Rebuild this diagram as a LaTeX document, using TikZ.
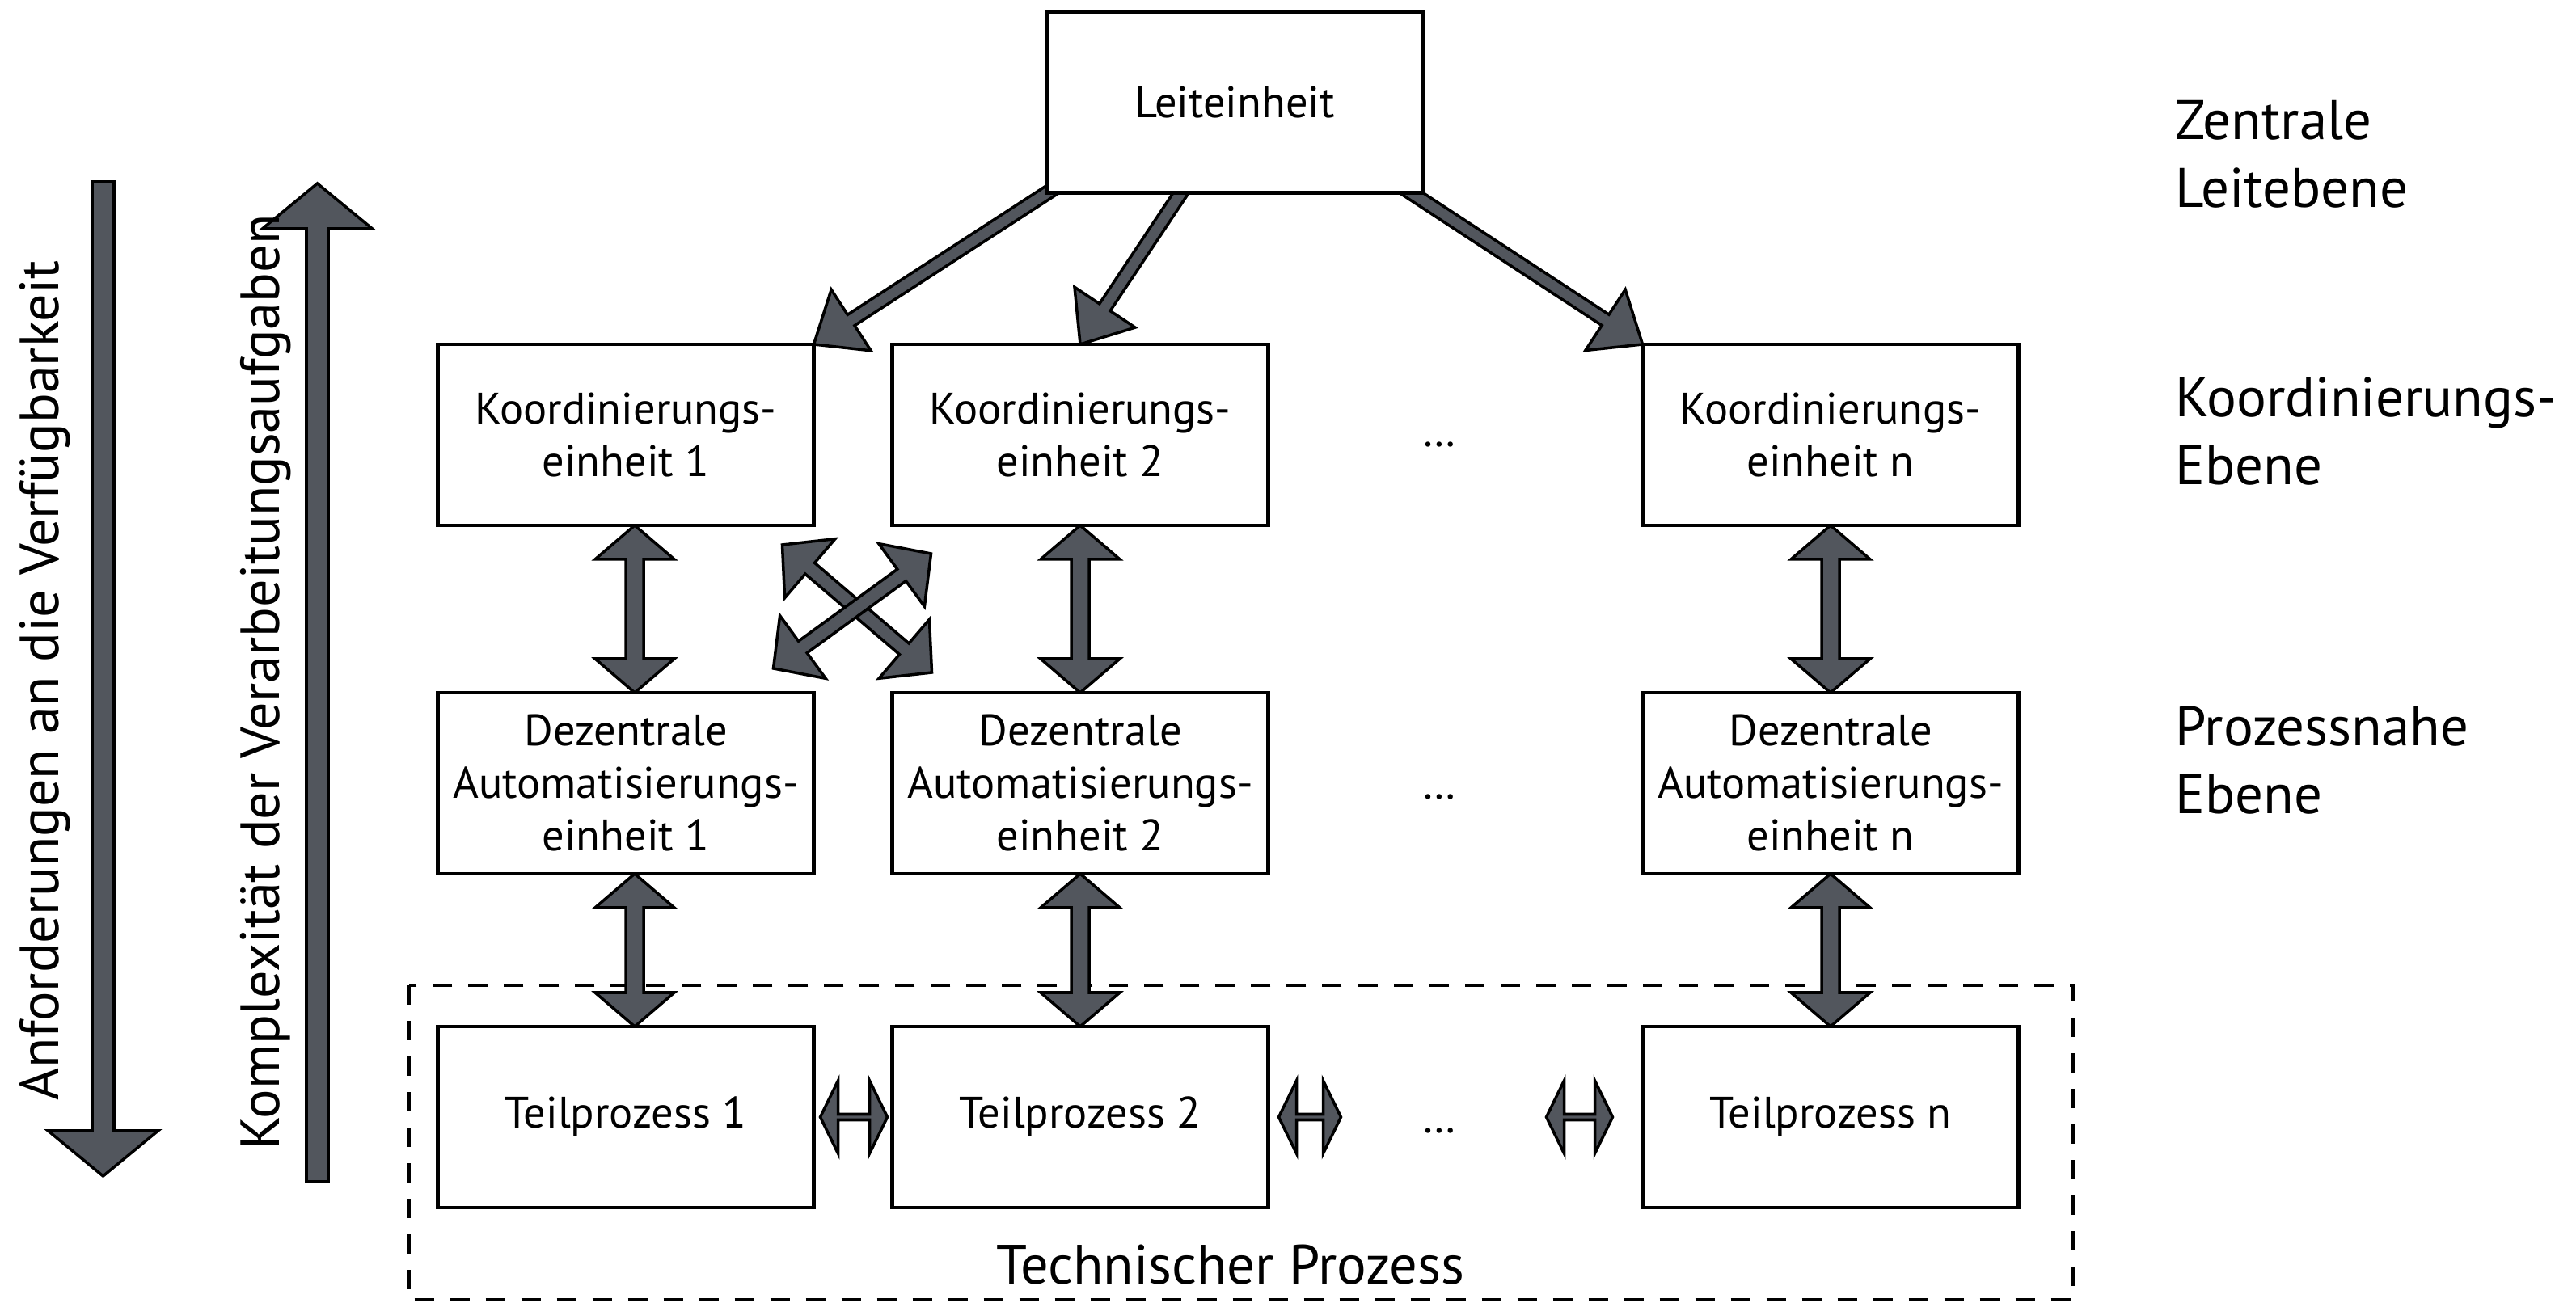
\documentclass[tikz,border=0pt]{standalone}
\usepackage{fontspec}
\setmainfont{PT Sans}
\usepackage{tikz}
\usetikzlibrary{positioning,calc,backgrounds}

\definecolor{arrowgray}{RGB}{82,86,93}

\tikzset{
    fatdims/.code n args={3}{\def\fatS{#1}\def\fatW{#2}\def\fatL{#3}},
    fatbase/.style={draw=black, fill=arrowgray, line width=1pt, line join=miter},
    fatsingle/.style={fatbase,
        to path={let \p1=(\tikztostart), \p2=(\tikztotarget),
                     \n1={atan2(\y2-\y1,\x2-\x1)} in
            ($(\p1)+({\n1+90}:\fatS)$)
            -- ($(\p2)+(\n1:-\fatL)+({\n1+90}:\fatS)$)
            -- ($(\p2)+(\n1:-\fatL)+({\n1+90}:\fatW)$)
            -- (\p2)
            -- ($(\p2)+(\n1:-\fatL)+({\n1-90}:\fatW)$)
            -- ($(\p2)+(\n1:-\fatL)+({\n1-90}:\fatS)$)
            -- ($(\p1)+({\n1-90}:\fatS)$) -- cycle}},
    fatdouble/.style={fatbase,
        to path={let \p1=(\tikztostart), \p2=(\tikztotarget),
                     \n1={atan2(\y2-\y1,\x2-\x1)} in
            (\p1)
            -- ($(\p1)+(\n1:\fatL)+({\n1+90}:\fatW)$)
            -- ($(\p1)+(\n1:\fatL)+({\n1+90}:\fatS)$)
            -- ($(\p2)+(\n1:-\fatL)+({\n1+90}:\fatS)$)
            -- ($(\p2)+(\n1:-\fatL)+({\n1+90}:\fatW)$)
            -- (\p2)
            -- ($(\p2)+(\n1:-\fatL)+({\n1-90}:\fatW)$)
            -- ($(\p2)+(\n1:-\fatL)+({\n1-90}:\fatS)$)
            -- ($(\p1)+(\n1:\fatL)+({\n1-90}:\fatS)$)
            -- ($(\p1)+(\n1:\fatL)+({\n1-90}:\fatW)$) -- cycle}},
    toparrow/.style={fatsingle, fatdims={0.08cm}{0.45cm}{0.55cm}},
    levelarrow/.style={fatdouble, fatdims={0.11cm}{0.49cm}{0.42cm}},
    crossarrow/.style={fatdouble, fatdims={0.09cm}{0.48cm}{0.45cm}},
    smallarrow/.style={fatdouble, fatdims={0.035cm}{0.45cm}{0.22cm}},
    sidearrow/.style={fatsingle, fatdims={0.135cm}{0.68cm}{0.56cm}}
}

\begin{document}
\begin{tikzpicture}[
    einheit/.style={draw, line width=1.2pt, fill=white, outer sep=0pt, inner sep=0pt,
                    minimum width=4.65cm, minimum height=2.24cm, align=center,
                    font=\fontsize{15.5}{18.5}\selectfont},
    ebene/.style={anchor=base west, align=left, inner sep=0pt, font=\fontsize{19.6}{24}\selectfont},
    seitentext/.style={rotate=90, anchor=base, font=\fontsize{19.4}{24}\selectfont},
    punkte/.style={anchor=base, font=\fontsize{15.5}{18.5}\selectfont},
    rahmen/.style={line width=1.2pt, dash pattern=on 0.24cm off 0.2cm}
]
    \useasboundingbox (0,0) rectangle (31.86,16.16);

    \node [einheit] (lei) at (15.27,14.895) {Leiteinheit};

    \node [einheit] (koord1) at (7.74,10.78) {Koordinierungs-\\einheit 1};
    \node [einheit, right = 0.97cm of koord1] (koord2) {Koordinierungs-\\einheit 2};
    \node [einheit, right = 4.63cm of koord2] (koordn) {Koordinierungs-\\einheit n};

    \node [einheit, below = 2.07cm of koord1] (dez1) {Dezentrale\\Automatisierungs-\\einheit 1};
    \node [einheit, below = 2.07cm of koord2] (dez2) {Dezentrale\\Automatisierungs-\\einheit 2};
    \node [einheit, below = 2.07cm of koordn] (dezn) {Dezentrale\\Automatisierungs-\\einheit n};

    \node [einheit, below = 1.89cm of dez1] (teil1) {Teilprozess 1};
    \node [einheit, below = 1.89cm of dez2] (teil2) {Teilprozess 2};
    \node [einheit, below = 1.89cm of dezn] (teiln) {Teilprozess n};

    \node [punkte] (dotsk) at ($(koord2.center)!0.5!(koordn.center)+(-0.2,-0.15)$) {\dots};
    \node [punkte] (dotsd) at ($(dez2.center)!0.5!(dezn.center)+(-0.2,-0.2)$) {\dots};
    \node [punkte] (dotst) at ($(teil2.center)!0.5!(teiln.center)+(-0.2,-0.2)$) {\dots};

    \node [ebene] (zentral) at (26.9,13.59) {Zentrale\\Leitebene};
    \node [ebene] (koordebene) at (26.9,10.16) {Koordinierungs-\\Ebene};
    \node [ebene] (prozebene) at (26.9,6.09) {Prozessnahe\\Ebene};

    \node [seitentext] (anf) at (0.72,7.74) {Anforderungen an die Verfügbarkeit};
    \node [seitentext] (kompl) at (3.45,7.72) {Komplexität der Verarbeitungsaufgaben};

    \node [anchor=base, font=\fontsize{19.5}{24}\selectfont] (technik) at (15.22,0.28) {Technischer Prozess};

    \coordinate (anftop) at (1.275,13.91);
    \coordinate (anfbot) at (1.275,1.61);
    \coordinate (komplbot) at (3.925,1.54);
    \coordinate (kompltop) at (3.925,13.89);

    \begin{scope}[on background layer]
        \draw [rahmen] ($(teil1.north west)+(-0.36,0.51)$) rectangle ($(teiln.south east)+(0.67,-1.14)$);

        \draw [sidearrow] (anftop) to (anfbot);
        \draw [sidearrow] (komplbot) to (kompltop);

        \draw [toparrow] ($(lei.south west)+(0.44,0.28)$) to (koord1.north east);
        \draw [toparrow] ($(lei.south)+(-0.41,0.38)$) to (koord2.north);
        \draw [toparrow] ($(lei.south east)+(-0.57,0.28)$) to (koordn.north west);

        \draw [levelarrow] ($(koord1.south)+(0.11,0)$) to ($(dez1.north)+(0.11,0)$);
        \draw [levelarrow] (koord2.south) to (dez2.north);
        \draw [levelarrow] (koordn.south) to (dezn.north);

        \draw [levelarrow] ($(dez1.south)+(0.11,0)$) to ($(teil1.north)+(0.11,0)$);
        \draw [levelarrow] (dez2.south) to (teil2.north);
        \draw [levelarrow] (dezn.south) to (teiln.north);

        \draw [crossarrow] ($(koord1.south east)+(-0.39,-0.24)$) to ($(dez2.north west)+(0.49,0.25)$);
        \draw [crossarrow] ($(dez1.north east)+(-0.5,0.3)$) to ($(koord2.south west)+(0.48,-0.35)$);

        \draw [smallarrow] ($(teil1.east)+(0.08,0)$) to ($(teil2.west)+(-0.06,0)$);
        \draw [smallarrow] ($(teil2.east)+(0.13,0)$) to ($(teil2.east)+(0.9,0)$);
        \draw [smallarrow] ($(teiln.west)+(-1.19,0)$) to ($(teiln.west)+(-0.37,0)$);
    \end{scope}
\end{tikzpicture}
\end{document}
